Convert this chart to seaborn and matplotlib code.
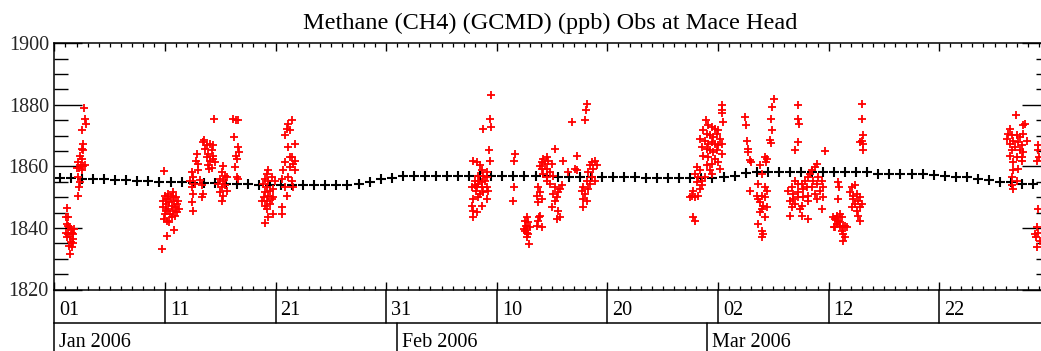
import matplotlib
matplotlib.use("Agg")
import numpy as np
import pandas as pd
import matplotlib.pyplot as plt
import matplotlib.transforms as mtransforms
from matplotlib.ticker import FixedLocator, MultipleLocator
import seaborn as sns

# ---- data: days counted from 2006-01-01 00:00 ----
TITLE = "Methane (CH4) (GCMD) (ppb) Obs at Mace Head"

# daily baseline (one value per day, plotted at midday)
baseline_ppb = [
    1856.1, 1856.1, 1856.0, 1855.9, 1855.8, 1855.6, 1855.5, 1855.3, 1855.2, 1855.0,
    1854.9, 1854.8, 1854.7, 1854.6, 1854.5, 1854.4, 1854.3, 1854.2, 1854.1, 1854.0,
    1853.9, 1853.9, 1853.8, 1853.8, 1853.9, 1854.0, 1854.1, 1854.3, 1854.8, 1855.9,
    1856.1, 1856.9, 1857.0, 1857.0, 1857.0, 1857.0, 1857.0, 1857.0, 1857.0, 1857.0,
    1857.0, 1857.0, 1857.0, 1857.0, 1857.0, 1856.5, 1856.5, 1856.5, 1856.5, 1856.5,
    1856.5, 1856.4, 1856.4, 1856.3, 1856.3, 1856.3, 1856.3, 1856.3, 1856.3, 1856.3,
    1856.5, 1857.0, 1857.8, 1858.1, 1858.1, 1858.1, 1858.1, 1858.1, 1858.1, 1858.1,
    1858.1, 1858.1, 1858.1, 1858.1, 1857.6, 1857.6, 1857.6, 1857.6, 1857.6, 1857.2,
    1857.0, 1856.6, 1856.4, 1855.8, 1855.5, 1855.0, 1854.8, 1854.4, 1854.3,
]

# in-situ observations, early January to late January
obs_day_early = [
    1.17, 1.05, 1.26, 1.11, 1.35, 1.47, 1.05, 1.56, 1.26, 1.41, 1.65, 1.47, 1.71, 1.35, 1.56, 1.41, 1.77, 1.26, 1.65, 1.17,
    2.70, 2.76, 2.85, 2.46, 2.55, 2.46, 2.61, 2.31, 2.46, 2.16, 2.37, 2.61, 2.25, 2.52, 2.16, 2.31, 2.25, 2.16, 2.76, 2.07,
    9.94, 9.70, 10.15, 10.84, 9.79, 9.85, 10.00, 10.00, 10.09, 10.15, 10.21, 10.30, 10.30, 10.39, 10.45, 10.51, 10.60,
    10.60, 10.69, 10.75, 10.81, 10.90, 10.90, 10.99, 11.05, 11.11, 11.20, 11.29, 9.91, 10.39, 10.75, 10.06,
    12.86, 12.77, 13.01, 12.41, 12.56, 12.71, 12.41, 12.56, 12.41, 12.56, 13.31, 13.46, 13.31, 13.16, 13.01, 12.26,
    14.43, 13.52, 13.40, 13.77, 14.07, 14.37, 14.22, 13.92, 13.77, 14.07, 14.37, 13.92, 14.22, 14.52, 13.61, 14.31, 14.01,
    15.27, 15.12, 15.42, 14.97, 15.27, 15.57, 14.82, 15.12, 15.42, 14.97, 15.27, 15.12, 15.57,
    16.18, 16.63, 16.42, 16.27, 16.63, 16.42, 16.48, 16.33, 16.48, 16.63, 16.72,
    19.04, 19.34, 19.79, 20.55, 20.55, 19.19, 19.04, 19.49, 19.19, 19.64, 19.34, 19.04, 19.49, 19.79, 19.19, 18.89,
    19.34, 19.04, 19.64, 19.19, 19.34, 19.94, 19.79, 18.74, 18.98,
    21.45, 21.15, 21.00, 21.30, 20.85, 21.75, 21.15, 21.45, 21.75, 21.60, 20.85, 21.30, 21.75, 21.15, 21.45, 20.85,
    20.70, 20.55, 21.00, 21.60, 21.30,
]
obs_ppb_early = [
    1846.4, 1843.4, 1843.4, 1841.3, 1840.2, 1839.6, 1838.5, 1838.5, 1838.0, 1836.9, 1836.4, 1835.3, 1835.0, 1834.2, 1833.7, 1831.5, 1839.6, 1840.7, 1838.0, 1836.9,
    1879.1, 1875.5, 1873.7, 1871.9, 1867.3, 1865.7, 1865.2, 1863.5, 1862.5, 1861.4, 1860.6, 1860.0, 1859.5, 1858.9, 1856.5, 1854.8, 1853.2, 1850.5, 1860.3, 1859.5,
    1858.4, 1833.1, 1837.5, 1839.4, 1848.9, 1846.7, 1850.5, 1844.5, 1847.8, 1842.3, 1849.4, 1846.2, 1851.0, 1848.3, 1844.5, 1850.0, 1847.2,
    1843.4, 1850.5, 1845.6, 1848.9, 1846.7, 1844.0, 1850.0, 1847.8, 1845.1, 1848.9, 1846.2, 1842.9, 1841.8, 1851.6, 1845.6,
    1863.9, 1861.9, 1860.8, 1858.1, 1856.5, 1854.3, 1853.2, 1851.0, 1848.3, 1845.6, 1853.8, 1851.0, 1850.0, 1855.6, 1858.7, 1855.4,
    1875.3, 1868.7, 1867.9, 1866.8, 1867.3, 1866.8, 1865.2, 1864.1, 1863.0, 1861.9, 1862.5, 1860.3, 1859.5, 1861.4, 1865.7, 1863.5, 1859.2,
    1860.0, 1858.1, 1857.0, 1855.9, 1855.4, 1856.5, 1854.3, 1853.2, 1853.8, 1851.6, 1850.5, 1848.9, 1852.1,
    1875.3, 1875.0, 1875.2, 1869.5, 1866.3, 1863.5, 1862.5, 1859.7, 1856.5, 1855.9, 1864.6,
    1841.5, 1843.4, 1844.5, 1844.5, 1846.7, 1846.2, 1847.2, 1847.8, 1848.9, 1849.4, 1850.5, 1851.6, 1852.1, 1852.7, 1853.2, 1854.3,
    1855.4, 1855.9, 1856.5, 1857.6, 1858.7, 1855.4, 1850.0, 1848.9, 1850.0,
    1875.0, 1873.9, 1872.2, 1871.7, 1870.1, 1867.3, 1866.3, 1863.0, 1861.9, 1860.8, 1861.4, 1859.7, 1858.7, 1856.5, 1855.4, 1853.2,
    1858.7, 1855.9, 1850.5, 1853.2, 1863.0,
]

# in-situ observations, February
obs_day_mid = [
    39.44, 39.38, 39.44, 38.78, 39.32, 39.38, 37.87, 38.18, 38.48, 38.63, 38.02, 38.33, 37.72, 38.18, 38.63, 38.93,
    39.08, 38.78, 39.08, 39.23, 38.48, 38.78, 37.87, 38.33, 39.08, 37.72, 38.63, 37.87, 38.18, 37.87, 38.33, 38.11,
    38.63, 39.08, 38.02, 38.42,
    41.64, 41.55, 41.55, 41.43,
    42.76, 42.55, 42.85, 42.64, 42.76, 42.55, 42.70, 42.85, 42.76, 42.94, 42.46, 43.00,
    43.90, 43.75, 43.60, 44.05, 43.84, 43.75, 43.90, 43.60, 44.05, 43.75,
    45.26, 46.01, 44.20, 44.50, 44.05, 44.35, 44.66, 43.90, 44.50, 44.96, 44.81, 45.11, 44.20, 44.50, 44.81, 45.26,
    45.71, 45.56, 45.11, 45.41, 45.26, 44.96, 45.56, 45.41, 45.71, 44.50, 44.05, 45.86,
    48.12, 48.06, 47.97, 46.76, 47.22, 47.07, 46.46, 48.57, 48.87, 48.42, 48.72, 48.27, 48.57, 48.12, 48.87, 47.82,
    48.27, 47.97, 47.67, 47.82, 48.12, 47.82, 48.42, 47.22, 49.02,
]
obs_ppb_mid = [
    1883.1, 1875.5, 1872.8, 1872.2, 1865.4, 1861.9, 1861.9, 1861.4, 1860.3, 1858.7, 1855.4, 1854.3, 1853.2, 1853.2, 1854.8, 1855.4,
    1856.5, 1857.0, 1853.2, 1852.1, 1851.0, 1851.6, 1849.4, 1850.0, 1849.4, 1847.2, 1847.2, 1845.6, 1845.1, 1843.4, 1857.0, 1852.1,
    1853.2, 1858.1, 1853.8, 1855.4,
    1864.1, 1861.7, 1853.2, 1848.7,
    1843.4, 1842.3, 1841.8, 1840.7, 1839.6, 1839.1, 1838.5, 1838.0, 1836.9, 1834.7, 1839.6, 1840.2,
    1844.0, 1842.3, 1840.7, 1840.2, 1843.4, 1853.2, 1851.6, 1850.5, 1849.4, 1848.3,
    1865.7, 1861.9, 1862.5, 1863.0, 1861.4, 1860.8, 1861.9, 1860.0, 1859.2, 1860.8, 1858.1, 1857.0, 1857.6, 1855.4, 1854.3, 1853.2,
    1852.7, 1851.6, 1851.0, 1850.0, 1848.9, 1846.7, 1845.6, 1842.9, 1843.4, 1856.5, 1859.2, 1853.8,
    1880.4, 1878.4, 1875.2, 1874.4, 1863.5, 1859.2, 1858.1, 1861.4, 1861.9, 1860.3, 1859.2, 1858.1, 1856.5, 1855.4, 1855.4, 1853.2,
    1852.7, 1851.0, 1852.1, 1849.4, 1848.9, 1846.7, 1854.3, 1858.7, 1860.3,
]

# in-situ observations, end of February through March
obs_day_late = [
    60.34, 60.40, 60.40, 60.49, 58.89, 59.13, 58.68, 59.43, 59.73, 60.03, 58.98, 59.28, 59.58, 59.88, 60.19, 58.38,
    58.83, 59.13, 59.43, 59.73, 60.03, 60.34, 58.53, 58.98, 59.28, 59.58, 59.88, 60.34, 58.68, 59.13, 59.73, 60.03,
    59.43, 58.98, 60.19, 58.08, 58.38, 57.92, 58.23, 58.53, 58.83, 58.08, 58.53, 58.38, 57.77, 57.62, 57.92, 58.23,
    57.77, 57.92, 57.47, 59.28, 59.43,
    62.45, 62.51, 62.60, 62.69, 62.75, 62.90, 62.99, 62.90,
    65.10, 64.86, 64.80, 64.86, 64.71, 64.80, 64.25, 64.40, 64.31, 63.80, 63.95, 63.65, 64.25, 64.40, 63.95, 63.65,
    64.25, 63.80, 64.10, 63.95, 64.40, 63.80, 64.25, 63.65, 63.95, 64.10, 63.95, 63.50,
    67.21, 67.27, 67.33, 67.21, 66.97,
    69.68, 68.93, 68.78, 68.47, 68.32, 68.17, 67.87, 67.57, 67.27, 66.97, 66.67, 66.36, 66.82, 67.27, 67.72, 68.02,
    68.47, 68.93, 69.38, 69.53, 69.23, 68.78, 68.17, 67.72, 67.27, 66.82, 66.51, 66.97, 67.57, 68.17, 68.93, 69.53,
    69.38, 66.67, 66.51, 67.57, 68.17, 67.42, 68.62, 69.08,
    70.88, 70.97, 70.88, 70.73, 71.03, 70.58, 70.88, 71.18, 70.73, 71.03, 71.34, 70.58, 71.49, 71.18, 71.34, 71.49,
    71.34, 71.03, 71.64, 70.43, 70.52,
    72.09, 72.39, 71.94, 72.24, 72.54, 72.84, 72.69, 72.39, 72.09, 72.84, 72.54, 72.69, 72.84, 72.99, 72.24,
    72.99, 72.99, 73.14, 72.99, 72.84, 73.14, 73.08,
    86.95, 87.76, 87.61, 86.40, 86.25, 86.56, 87.01, 87.31, 87.61, 86.71, 86.40, 87.16, 87.46, 86.86, 86.56, 87.31,
    87.61, 86.40, 87.01, 86.71, 87.46, 87.16, 86.71, 86.56, 87.01, 86.56, 86.71, 87.91, 86.10, 87.46,
    88.97, 89.06, 88.88, 88.97, 88.97, 88.82, 88.97, 88.76, 88.88, 89.12, 88.67,
]
obs_ppb_late = [
    1879.8, 1878.4, 1877.3, 1874.4, 1875.0, 1873.3, 1871.7, 1872.8, 1872.2, 1871.7, 1870.6, 1870.1, 1869.5, 1870.6, 1869.0, 1869.0,
    1868.4, 1867.3, 1867.9, 1867.3, 1866.8, 1867.3, 1866.3, 1865.7, 1865.2, 1864.6, 1865.2, 1864.1, 1863.5, 1863.0, 1862.5, 1861.4,
    1860.8, 1860.3, 1859.2, 1859.7, 1858.7, 1857.6, 1856.5, 1855.4, 1856.5, 1854.8, 1853.8, 1852.7, 1852.1, 1850.5, 1850.0, 1850.5,
    1843.4, 1842.3, 1850.0, 1858.7, 1857.6,
    1876.0, 1873.3, 1868.4, 1865.7, 1864.6, 1862.1, 1861.4, 1852.1,
    1882.0, 1879.3, 1875.5, 1871.7, 1868.7, 1867.6, 1863.2, 1862.5, 1861.4, 1860.3, 1857.6, 1854.3, 1853.2, 1852.1, 1850.5, 1849.4,
    1850.0, 1848.3, 1847.2, 1846.2, 1846.7, 1845.1, 1843.4, 1841.3, 1839.1, 1838.0, 1836.9, 1850.5,
    1879.8, 1875.5, 1873.9, 1867.9, 1865.2,
    1865.0, 1860.8, 1859.7, 1858.7, 1857.6, 1856.5, 1855.4, 1854.3, 1854.3, 1855.4, 1853.2, 1852.1, 1851.0, 1851.6, 1852.7, 1853.2,
    1853.2, 1854.3, 1855.4, 1853.2, 1852.1, 1851.0, 1850.5, 1850.0, 1850.0, 1849.4, 1848.9, 1847.8, 1847.2, 1848.9, 1849.4, 1850.0,
    1846.2, 1846.7, 1844.0, 1844.0, 1842.9, 1846.2, 1855.4, 1856.5,
    1854.8, 1853.4, 1849.4, 1844.0, 1844.5, 1842.9, 1842.3, 1843.4, 1841.3, 1840.7, 1840.2, 1840.2, 1840.7, 1839.1, 1838.0, 1836.9,
    1835.8, 1841.8, 1840.2, 1843.4, 1840.2,
    1853.2, 1853.8, 1851.6, 1850.5, 1851.0, 1850.0, 1848.9, 1847.8, 1846.7, 1846.7, 1845.6, 1844.0, 1842.3, 1847.8, 1849.4,
    1880.2, 1875.5, 1870.1, 1868.4, 1867.9, 1867.3, 1865.2,
    1876.6, 1873.9, 1873.3, 1872.2, 1870.6, 1870.1, 1870.1, 1869.5, 1870.6, 1868.4, 1867.3, 1867.9, 1866.8, 1866.3, 1865.2, 1865.2,
    1864.6, 1863.5, 1863.0, 1861.4, 1861.9, 1859.2, 1858.7, 1856.5, 1855.4, 1853.8, 1852.7, 1868.4, 1869.0, 1863.0,
    1866.8, 1863.0, 1861.9, 1865.2, 1846.1, 1840.2, 1838.5, 1836.9, 1833.7, 1835.8, 1838.0,
]

# axis annotation
day_ticks = [0, 10, 20, 30, 40, 50, 60, 70, 80]
day_labels = ["01", "11", "21", "31", "10", "20", "02", "12", "22"]
month_ticks = [0, 31, 59]
month_labels = ["Jan 2006", "Feb 2006", "Mar 2006"]
x_range = (0, 90)
y_range = (1820, 1900)

# ---- assemble tables ----
obs = pd.DataFrame({
    "day": obs_day_early + obs_day_mid + obs_day_late,
    "ppb": obs_ppb_early + obs_ppb_mid + obs_ppb_late,
})
base = pd.DataFrame({
    "day": np.arange(len(baseline_ppb)) + 0.5,
    "ppb": baseline_ppb,
})

# ---- figure ----
sns.set_theme(style="ticks")
plt.rcParams["font.family"] = ["Liberation Serif", "DejaVu Serif"]
plt.rcParams["axes.linewidth"] = 1.1

W, H = 1041, 351
fig = plt.figure(figsize=(W / 100, H / 100), dpi=100)
ax_left, ax_right, ax_top, ax_bot = 54.4, 1049.8, 43.3, 289.5
ax = fig.add_axes([ax_left / W, 1 - ax_bot / H, (ax_right - ax_left) / W, (ax_bot - ax_top) / H])

sns.scatterplot(data=base, x="day", y="ppb", marker="+", color="black",
                s=44, linewidth=1.5, ax=ax, legend=False, zorder=2)
sns.scatterplot(data=obs, x="day", y="ppb", marker="+", color="#ff0000",
                s=38, linewidth=1.3, ax=ax, legend=False, zorder=3)

ax.set_xlim(*x_range)
ax.set_ylim(*y_range)
ax.set_xlabel("")
ax.set_ylabel("")
for sp in ax.spines.values():
    sp.set_visible(True)
    sp.set_color("black")

# x ticks: ten-day majors, daily minors, drawn inside on both edges
ax.xaxis.set_major_locator(FixedLocator(day_ticks))
ax.xaxis.set_minor_locator(MultipleLocator(1))
ax.tick_params(axis="x", which="major", direction="in", length=6, width=1.0,
               top=True, bottom=True, labelbottom=False, labeltop=False, color="black")
ax.tick_params(axis="x", which="minor", direction="in", length=3, width=0.9,
               top=True, bottom=True, color="black")

# y ticks
ax.yaxis.set_major_locator(MultipleLocator(20))
ax.yaxis.set_minor_locator(MultipleLocator(5))
ax.tick_params(axis="y", which="major", direction="in", length=20, width=1.0,
               left=True, right=True, labelsize=14.5, pad=4, color="black")
ax.tick_params(axis="y", which="minor", direction="in", length=10, width=1.0,
               left=True, right=True, color="black")

# two-row date annotation under the plot
px = 1.0 / (ax_bot - ax_top)
row1 = -(323 - ax_bot) * px
bottom = -(H + 5 - ax_bot) * px
trans = ax.get_xaxis_transform()
line_kw = dict(transform=trans, color="black", lw=1.1, clip_on=False, zorder=1)
ax.plot([x_range[0], x_range[1]], [row1, row1], **line_kw)
for t in day_ticks:
    ax.plot([t, t], [0, row1], **line_kw)
for t in month_ticks:
    ax.plot([t, t], [row1, bottom], **line_kw)

label_trans = mtransforms.offset_copy(trans, fig=fig, x=5, y=0, units="dots")
for t, lab in zip(day_ticks, day_labels):
    ax.text(t, -(315 - ax_bot) * px, lab, transform=label_trans,
            ha="left", va="baseline", fontsize=14.5, color="black")
for t, lab in zip(month_ticks, month_labels):
    ax.text(t, -(347 - ax_bot) * px, lab, transform=label_trans,
            ha="left", va="baseline", fontsize=14.5, color="black")

fig.text(550 / W, 1 - 29 / H, TITLE, ha="center", va="baseline",
         fontsize=17.5, color="black")

fig.savefig("out.png", dpi=100)
